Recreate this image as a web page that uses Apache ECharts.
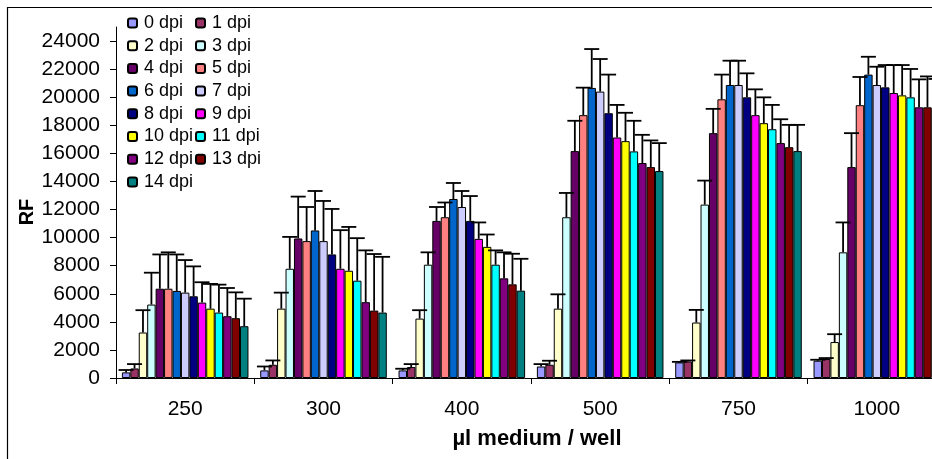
<!DOCTYPE html>
<html>
<head>
<meta charset="utf-8">
<title>RF by medium volume</title>
<script src="https://cdn.jsdelivr.net/npm/echarts@6/dist/echarts.min.js"></script>
<style>
  html, body { margin: 0; padding: 0; background: #fff; }
  #chart { width: 932px; height: 459px; }
</style>
</head>
<body>
<div id="chart"></div>
<script>
// categories on the x axis (µl medium per well)
const categories = ['250', '300', '400', '500', '750', '1000'];
const dpiNames = ['0 dpi', '1 dpi', '2 dpi', '3 dpi', '4 dpi', '5 dpi', '6 dpi', '7 dpi',
  '8 dpi', '9 dpi', '10 dpi', '11 dpi', '12 dpi', '13 dpi', '14 dpi'];
const yTicks = [0, 2000, 4000, 6000, 8000, 10000, 12000, 14000, 16000, 18000, 20000, 22000, 24000];

// mean RF per dpi, one array per volume
const mean250 = [400, 680, 3240, 5230, 6360, 6360, 6200, 6080, 5820, 5370, 4940, 4660, 4400, 4260, 3690];
const mean300 = [540, 940, 4940, 7780, 9940, 9750, 10510, 9750, 8800, 7780, 7640, 6930, 5400, 4800, 4660];
const mean400 = [540, 780, 4230, 8070, 11190, 11450, 12750, 12180, 11190, 9910, 9340, 8070, 7100, 6670, 6220];
const mean500 = [820, 940, 4940, 11450, 16160, 18720, 20660, 20400, 18860, 17130, 16870, 16140, 15310, 15020, 14740];
const mean750 = [1110, 1180, 3950, 12350, 17440, 19850, 20870, 20870, 19990, 18720, 18150, 17720, 16730, 16440, 16160];
const mean1000 = [1230, 1350, 2560, 8950, 15020, 19430, 21610, 20870, 20700, 20300, 20130, 19990, 19280, 19280, 19200];

// upper error (SD) per dpi
const err250 = [170, 310, 1590, 2270, 2440, 2590, 2600, 2320, 2130, 1450, 1760, 1990, 2010, 1840, 1960];
const err300 = [280, 310, 1140, 2270, 2980, 2430, 2810, 2860, 3240, 2750, 3120, 3030, 3690, 4030, 3970];
const err400 = [120, 210, 600, 880, 990, 1050, 1140, 1140, 1770, 1170, 880, 1020, 1850, 2180, 2270];
const err500 = [170, 290, 1020, 1730, 2160, 1960, 2770, 2320, 2750, 2320, 2020, 2180, 2010, 1900, 1990];
const err750 = [40, 70, 900, 1710, 1730, 1760, 1730, 1730, 1710, 1840, 1840, 1730, 1700, 1590, 1870];
const err1000 = [70, 70, 560, 2130, 2420, 2010, 1270, 1300, 1590, 1990, 2160, 2020, 1990, 2200, 2100];

const palette = ['#9999FF', '#993366', '#FFFFCC', '#CCFFFF', '#660066', '#FF8080', '#0066CC', '#CCCCFF',
  '#000080', '#FF00FF', '#FFFF00', '#00FFFF', '#800080', '#800000', '#008080'];

const means = [mean250, mean300, mean400, mean500, mean750, mean1000];
const errs = [err250, err300, err400, err500, err750, err1000];

const catGap = 0.085;
const nSeries = dpiNames.length;

let series = dpiNames.map(function (name, s) {
  return {
    name: name,
    type: 'bar',
    barGap: 0,
    barCategoryGap: (catGap * 100) + '%',
    itemStyle: { color: palette[s], borderColor: '#000', borderWidth: 1 },
    data: means.map(function (m) { return m[s]; }),
    z: 2
  };
});

let errData = [];
means.forEach(function (m, c) {
  m.forEach(function (v, s) {
    errData.push([c, v, v + errs[c][s], s]);
  });
});

series.push({
  type: 'custom',
  name: 'err',
  z: 5,
  silent: true,
  clip: false,
  data: errData,
  renderItem: function (params, api) {
    let c = api.value(0);
    let base = api.coord([c, api.value(1)]);
    let top = api.coord([c, api.value(2)]);
    let catW = api.size([1, 0])[0];
    let inner = catW * (1 - catGap);
    let barW = inner / nSeries;
    let x = base[0] - inner / 2 + (api.value(3) + 0.5) * barW;
    let st = { stroke: '#000', lineWidth: 1.8 };
    return {
      type: 'group',
      children: [
        { type: 'line', shape: { x1: x, y1: base[1], x2: x, y2: top[1] }, style: st },
        { type: 'line', shape: { x1: x - 7.5, y1: top[1], x2: x + 7.5, y2: top[1] }, style: st }
      ]
    };
  }
});

function legendFor(parity, left) {
  return {
    orient: 'vertical',
    left: left,
    top: 14,
    padding: 0,
    itemWidth: 9,
    itemHeight: 9,
    itemGap: 4.7,
    selectedMode: false,
    data: dpiNames.filter(function (n, i) { return i % 2 === parity; }),
    textStyle: {
      fontFamily: 'Liberation Sans, Arial, sans-serif',
      fontSize: 18,
      lineHeight: 18,
      color: '#000',
      padding: [0, 0, 0, 2]
    }
  };
}

let chart = echarts.init(document.getElementById('chart'));
let option = {
  animation: false,
  backgroundColor: '#fff',
  legend: [legendFor(0, 127), legendFor(1, 195)],
  grid: { left: 116, top: 27, width: 830, height: 351, outerBoundsMode: 'none' },
  xAxis: {
    type: 'category',
    data: categories,
    axisLine: { lineStyle: { color: '#000', width: 1 } },
    axisTick: { show: true, length: 6, lineStyle: { color: '#000' } },
    axisLabel: {
      color: '#000',
      fontFamily: 'Liberation Sans, Arial, sans-serif',
      fontSize: 21,
      margin: 21
    },
    splitLine: { show: false }
  },
  yAxis: {
    type: 'value',
    min: 0,
    max: 25000,
    interval: 2000,
    axisLine: { show: true, lineStyle: { color: '#000', width: 1 } },
    axisTick: { show: true, length: 6, lineStyle: { color: '#000' }, customValues: yTicks },
    axisLabel: {
      color: '#000',
      fontFamily: 'Liberation Sans, Arial, sans-serif',
      fontSize: 21,
      margin: 16,
      customValues: yTicks,
      formatter: function (v) { return String(v); }
    },
    splitLine: { show: false }
  },
  graphic: [
    {
      type: 'rect',
      shape: { x: 7.5, y: 7.5, width: 960, height: 480 },
      style: { fill: null, stroke: '#000', lineWidth: 1.2 },
      silent: true
    },
    {
      type: 'text',
      x: 27,
      y: 212,
      rotation: Math.PI / 2,
      style: {
        text: 'RF',
        font: 'bold 20px Liberation Sans, Arial, sans-serif',
        fill: '#000',
        textAlign: 'center',
        textVerticalAlign: 'middle'
      }
    },
    {
      type: 'text',
      x: 537,
      y: 439,
      style: {
        text: 'µl medium / well',
        font: 'bold 22px Liberation Sans, Arial, sans-serif',
        fill: '#000',
        textAlign: 'center',
        textVerticalAlign: 'middle'
      }
    }
  ],
  series: series
};
chart.setOption(option);
</script>
</body>
</html>
